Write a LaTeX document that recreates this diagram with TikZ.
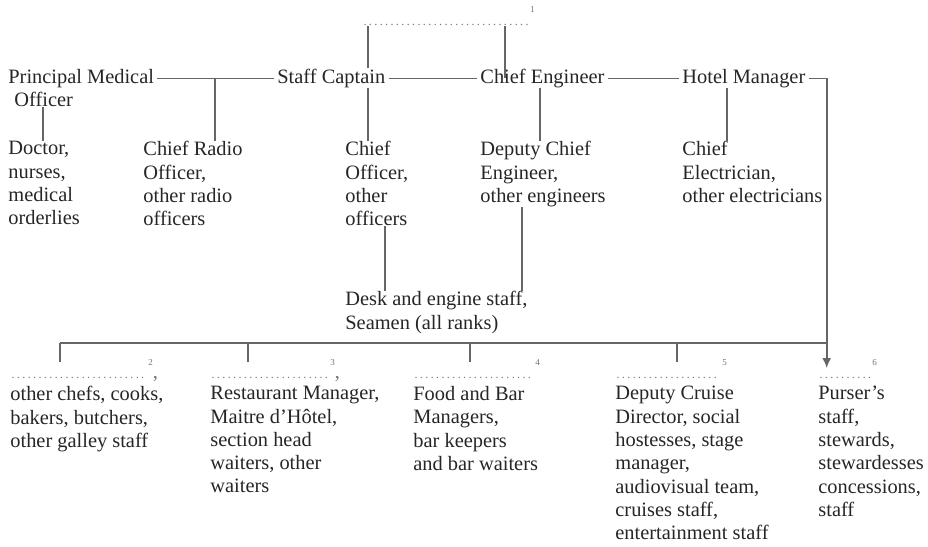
\documentclass[tikz,border=0pt]{standalone}
\usepackage{fontspec}
\setmainfont{Liberation Serif}
\usetikzlibrary{arrows.meta}

% dotted blank to fill in, with its note number
\newcommand{\fillin}[2]{\makebox[#1]{\leaders\hbox to 2.7pt{\hss\fontsize{6pt}{6pt}\selectfont.\hss}\hfill}\raisebox{1.3ex}{\fontsize{4.5pt}{5pt}\selectfont #2}}

\tikzset{
    staff/.style={font=\fontsize{10.2pt}{11.65pt}\selectfont,text=black!85,inner sep=0pt,anchor=north west,align=left},
    head/.style={staff,inner xsep=1.5pt,anchor=base west},
    blank/.style={staff,text=black!55,anchor=base west},
    link/.style={draw=black!60,line width=0.8pt}
}

\begin{document}
\begin{tikzpicture}[x=0.5pt,y=-0.5pt]
    \useasboundingbox (0,0) rectangle (928,547);
    \node[blank] (b1) at (362,25) {\fillin{84pt}{1}};

    \node[staff,inner xsep=1.5pt] (pmo) at (5,69) {Principal Medical\\\hspace*{3pt}Officer};
    \node[head] (sc) at (274,83) {Staff Captain};
    \node[head] (ce) at (477,83) {Chief Engineer};
    \node[head] (hm) at (679,83) {Hotel Manager};

    \node[staff] (doc) at (8,141) {Doctor,\\nurses,\\medical\\orderlies};
    \node[staff] (cro) at (143,141) {Chief Radio\\Officer,\\other radio\\officers};
    \node[staff] (co) at (345,141) {Chief\\Officer,\\other\\officers};
    \node[staff] (dce) at (480,141) {Deputy Chief\\Engineer,\\other engineers};
    \node[staff] (cel) at (682,141) {Chief\\Electrician,\\other electricians};
    \node[staff] (desk) at (345,291) {Desk and engine staff,\\Seamen (all ranks)};

    \node[blank] (b2) at (10,378) {\fillin{69pt}{2},};
    \node[blank] (b3) at (210,378) {\fillin{60pt}{3},};
    \node[blank] (b4) at (413,378) {\fillin{61pt}{4}};
    \node[blank] (b5) at (615,378) {\fillin{53.5pt}{5}};
    \node[blank] (b6) at (818,378) {\fillin{27pt}{6}};

    \node[staff] (galley) at (10,386) {other chefs, cooks,\\bakers, butchers,\\other galley staff};
    \node[staff] (rest) at (210,386) {Restaurant Manager,\\Maitre d'Hôtel,\\section head\\waiters, other\\waiters};
    \node[staff] (food) at (413,386) {Food and Bar\\Managers,\\bar keepers\\and bar waiters};
    \node[staff] (cruise) at (615,386) {Deputy Cruise\\Director, social\\hostesses, stage\\manager,\\audiovisual team,\\cruises staff,\\entertainment staff};
    \node[staff] (purser) at (818,386) {Purser's\\staff,\\stewards,\\stewardesses\\concessions,\\staff};

    % top row
    \draw[link] (368,0 |- b1.south) -- (368,0 |- sc.north);
    \draw[link] (505,0 |- b1.south) -- (505,0 |- sc.mid);
    \draw[link] (pmo.north east |- sc.mid) -- (sc.mid west);
    \draw[link] (sc.mid east) -- (ce.mid west);
    \draw[link] (ce.mid east) -- (hm.mid west);

    % down to the staff
    \draw[link] (43,0 |- pmo.south) -- (43,0 |- doc.north);
    \draw[link] (215,0 |- sc.mid) -- (215,0 |- cro.north);
    \draw[link] (368,0 |- sc.south) -- (368,0 |- co.north);
    \draw[link] (540,0 |- ce.south) -- (540,0 |- dce.north);
    \draw[link] (727,0 |- hm.south) -- (727,0 |- cel.north);
    \draw[link] (385,0 |- co.south) -- (385,0 |- desk.north);
    \draw[link] (522,0 |- dce.south) -- (522,0 |- desk.north);

    % hotel side
    \coordinate (turn) at ([xshift=9pt]hm.mid east);
    \coordinate (bus) at (60,343);
    \coordinate (tip) at (turn |- 0,368);
    \draw[link] (bus) -- (bus -| turn);
    \foreach \x in {60,248,470,677}
        \draw[link] (\x,0 |- bus) -- (\x,362);
    \draw[link,-{Latex[length=5pt,width=4.5pt]}] (hm.mid east) -- (turn) -- (tip);
\end{tikzpicture}
\end{document}
